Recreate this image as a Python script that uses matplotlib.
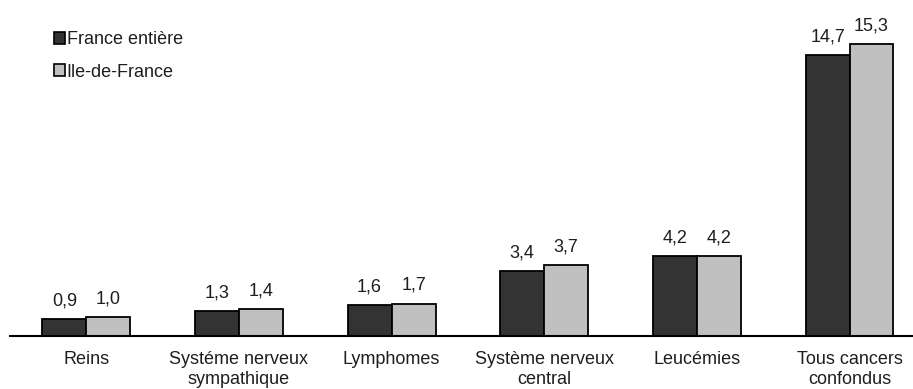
import matplotlib
matplotlib.use("Agg")
import matplotlib.pyplot as plt
import numpy as np
from matplotlib.patches import Patch

plt.rcParams['font.family'] = ['Liberation Sans', 'DejaVu Sans']

categories = ["Reins", "Systéme nerveux\nsympathique", "Lymphomes",
              "Système nerveux\ncentral", "Leucémies", "Tous cancers\nconfondus"]
france = [0.9, 1.3, 1.6, 3.4, 4.2, 14.7]
idf = [1.0, 1.4, 1.7, 3.7, 4.2, 15.3]
series_names = ["France entière", "Ile-de-France"]

W, H = 913, 389
fs = 13
txt = "#1e1e1e"
fig = plt.figure(figsize=(W / 100, H / 100), dpi=100)
ax = fig.add_axes([10 / W, 53 / H, (W - 10) / W, (389 - 53 - 10) / H])

x = np.arange(len(categories))
bw = 0.288
dark, light = "#333333", "#c0c0c0"
b1 = ax.bar(x - bw / 2, france, bw, color=dark, edgecolor="black", linewidth=1.3)
b2 = ax.bar(x + bw / 2, idf, bw, color=light, edgecolor="black", linewidth=1.3)

for bars, vals in ((b1, france), (b2, idf)):
    for r, v in zip(bars, vals):
        ax.annotate(f"{v:.1f}".replace(".", ","),
                    (r.get_x() + r.get_width() / 2, v),
                    xytext=(0, 7), textcoords="offset points",
                    ha="center", va="bottom", fontsize=fs, color=txt)

ax.set_xlim(-0.5, 5.416)
ax.set_ylim(0, 17.08)
ax.set_xticks(x)
ax.set_xticklabels(categories, fontsize=fs, color=txt, linespacing=1.2)
ax.tick_params(axis="x", length=0, pad=11)
ax.set_yticks([])
for s in ("top", "right", "left"):
    ax.spines[s].set_visible(False)
ax.spines["bottom"].set_linewidth(1.5)

handles = [Patch(facecolor=dark, edgecolor="black", linewidth=1.2),
           Patch(facecolor=light, edgecolor="black", linewidth=1.2)]
fig.legend(handles, series_names, loc="upper left",
           bbox_to_anchor=(47 / W, 1 - 24 / H), frameon=False,
           handlelength=0.6, handleheight=0.6, handletextpad=0.1,
           labelspacing=0.85, fontsize=fs, borderaxespad=0, labelcolor=txt)

fig.savefig("out.png", dpi=100)
